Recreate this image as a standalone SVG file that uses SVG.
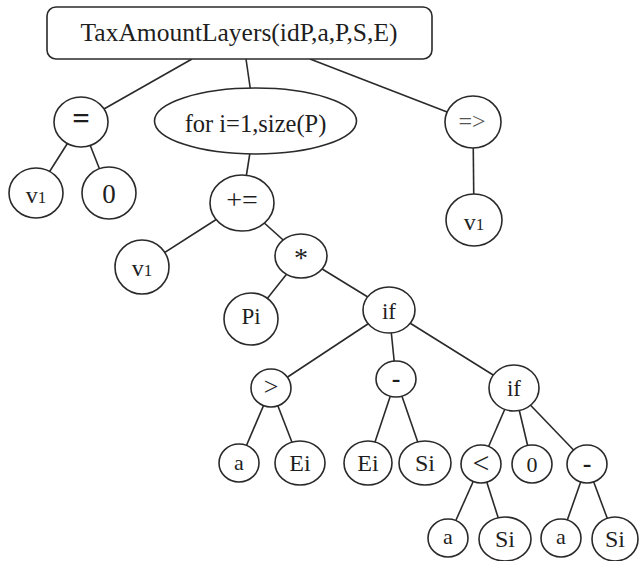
<svg xmlns="http://www.w3.org/2000/svg" width="640" height="561" viewBox="0 0 640 561">
  <style>
    .edge { stroke: #2a2a2a; stroke-width: 1.6; fill: none; }
    .node { fill: #ffffff; stroke: #2a2a2a; stroke-width: 1.6; }
    .lbl { font-family: "Liberation Serif", "Times New Roman", serif; fill: #1e1e1e; text-anchor: middle; }
    .sub { font-size: 17px; }
  </style>
  <rect width="640" height="561" fill="#ffffff"/>

  <!-- connectors: drawn centre to centre, nodes cover the ends -->
  <g id="edges">
    <line class="edge" x1="192" y1="59" x2="81" y2="122"/>
    <line class="edge" x1="246" y1="59" x2="255" y2="121"/>
    <line class="edge" x1="310" y1="59" x2="473" y2="122"/>
    <line class="edge" x1="81" y1="122" x2="36" y2="193"/>
    <line class="edge" x1="81" y1="122" x2="109" y2="193"/>
    <line class="edge" x1="255" y1="121" x2="242" y2="203"/>
    <line class="edge" x1="473" y1="122" x2="474" y2="220"/>
    <line class="edge" x1="242" y1="203" x2="142" y2="267"/>
    <line class="edge" x1="242" y1="203" x2="301" y2="256"/>
    <line class="edge" x1="301" y1="256" x2="251" y2="319"/>
    <line class="edge" x1="301" y1="256" x2="389" y2="310"/>
    <line class="edge" x1="389" y1="310" x2="271" y2="388"/>
    <line class="edge" x1="389" y1="310" x2="396" y2="379"/>
    <line class="edge" x1="389" y1="310" x2="514" y2="388"/>
    <line class="edge" x1="271" y1="388" x2="239" y2="463"/>
    <line class="edge" x1="271" y1="388" x2="300" y2="463"/>
    <line class="edge" x1="396" y1="379" x2="368" y2="463"/>
    <line class="edge" x1="396" y1="379" x2="425" y2="463"/>
    <line class="edge" x1="514" y1="388" x2="481" y2="464"/>
    <line class="edge" x1="514" y1="388" x2="532" y2="464"/>
    <line class="edge" x1="514" y1="388" x2="587" y2="464"/>
    <line class="edge" x1="481" y1="464" x2="448" y2="538"/>
    <line class="edge" x1="481" y1="464" x2="505" y2="539"/>
    <line class="edge" x1="587" y1="464" x2="561" y2="538"/>
    <line class="edge" x1="587" y1="464" x2="615" y2="539"/>
  </g>

  <g id="root">
    <rect class="node" x="47" y="7" width="385" height="52" rx="9"/>
    <text class="lbl" x="239" y="41" font-size="25.5">TaxAmountLayers(idP,a,P,S,E)</text>
  </g>

  <g id="assign">
    <ellipse class="node" cx="81" cy="122" rx="27" ry="25"/>
    <text class="lbl" x="81" y="129" font-size="31" font-weight="bold">=</text>
  </g>
  <g id="assign-v1">
    <ellipse class="node" cx="36" cy="193" rx="27" ry="25"/>
    <text class="lbl" x="36" y="203" font-size="24">v<tspan class="sub">1</tspan></text>
  </g>
  <g id="assign-zero">
    <ellipse class="node" cx="109" cy="193" rx="27" ry="26"/>
    <text class="lbl" x="109" y="203" font-size="27">0</text>
  </g>

  <g id="loop">
    <ellipse class="node" cx="255.5" cy="121" rx="101" ry="33"/>
    <text class="lbl" x="255.5" y="132" font-size="24.5">for i=1,size(P)</text>
  </g>
  <g id="accumulate">
    <ellipse class="node" cx="242" cy="203" rx="32" ry="28"/>
    <text class="lbl" x="242" y="209" font-size="28">+=</text>
  </g>
  <g id="acc-v1">
    <ellipse class="node" cx="142" cy="267" rx="27" ry="27"/>
    <text class="lbl" x="142" y="276" font-size="24">v<tspan class="sub">1</tspan></text>
  </g>
  <g id="times">
    <ellipse class="node" cx="301" cy="256" rx="26" ry="22"/>
    <text class="lbl" x="301" y="267" font-size="28">*</text>
  </g>
  <g id="pi">
    <ellipse class="node" cx="251" cy="319" rx="27" ry="26"/>
    <text class="lbl" x="251" y="324" font-size="23">Pi</text>
  </g>
  <g id="if-outer">
    <ellipse class="node" cx="389" cy="310" rx="26" ry="23"/>
    <text class="lbl" x="389" y="319" font-size="23">if</text>
  </g>
  <g id="greater">
    <ellipse class="node" cx="271" cy="388" rx="20" ry="19"/>
    <text class="lbl" x="271" y="395" font-size="26">&gt;</text>
  </g>
  <g id="minus-outer">
    <ellipse class="node" cx="396" cy="379" rx="20" ry="18"/>
    <text class="lbl" x="396" y="387" font-size="26" font-weight="bold">-</text>
  </g>
  <g id="gt-a">
    <ellipse class="node" cx="239" cy="463" rx="20" ry="19"/>
    <text class="lbl" x="239" y="470" font-size="22">a</text>
  </g>
  <g id="gt-ei">
    <ellipse class="node" cx="300" cy="463" rx="25" ry="22"/>
    <text class="lbl" x="300" y="471" font-size="24">Ei</text>
  </g>
  <g id="minus-ei">
    <ellipse class="node" cx="368" cy="463" rx="24" ry="22"/>
    <text class="lbl" x="368" y="471" font-size="24">Ei</text>
  </g>
  <g id="minus-si">
    <ellipse class="node" cx="425" cy="463" rx="26" ry="22"/>
    <text class="lbl" x="425" y="471" font-size="24">Si</text>
  </g>
  <g id="if-inner">
    <ellipse class="node" cx="514" cy="388" rx="25" ry="23"/>
    <text class="lbl" x="514" y="396" font-size="23">if</text>
  </g>
  <g id="less">
    <ellipse class="node" cx="481" cy="464" rx="20" ry="19"/>
    <text class="lbl" x="481" y="473" font-size="30">&lt;</text>
  </g>
  <g id="inner-zero">
    <ellipse class="node" cx="532" cy="464" rx="20" ry="19"/>
    <text class="lbl" x="532" y="472" font-size="22">0</text>
  </g>
  <g id="minus-inner">
    <ellipse class="node" cx="587" cy="464" rx="20" ry="19"/>
    <text class="lbl" x="587" y="472" font-size="26" font-weight="bold">-</text>
  </g>
  <g id="lt-a">
    <ellipse class="node" cx="448" cy="538" rx="20" ry="19"/>
    <text class="lbl" x="448" y="544" font-size="22">a</text>
  </g>
  <g id="lt-si">
    <ellipse class="node" cx="505" cy="539" rx="26" ry="22"/>
    <text class="lbl" x="505" y="547" font-size="24">Si</text>
  </g>
  <g id="sub-a">
    <ellipse class="node" cx="561" cy="538" rx="20" ry="19"/>
    <text class="lbl" x="561" y="544" font-size="22">a</text>
  </g>
  <g id="sub-si">
    <ellipse class="node" cx="615" cy="539" rx="23" ry="22"/>
    <text class="lbl" x="615" y="547" font-size="24">Si</text>
  </g>

  <g id="result">
    <ellipse class="node" cx="473" cy="122" rx="28" ry="26"/>
    <text class="lbl" x="472" y="129" font-size="24" style="fill:#555555">=&gt;</text>
  </g>
  <g id="result-v1">
    <ellipse class="node" cx="474" cy="220" rx="28" ry="26"/>
    <text class="lbl" x="474" y="230" font-size="24">v<tspan class="sub">1</tspan></text>
  </g>
</svg>
